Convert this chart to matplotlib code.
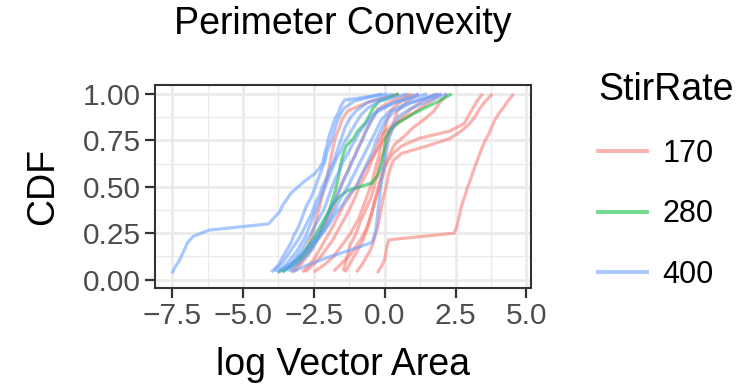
import numpy as np
import matplotlib
matplotlib.use("Agg")
import matplotlib.pyplot as plt
from matplotlib.lines import Line2D
from matplotlib.ticker import MultipleLocator

plt.rcParams['font.family'] = ['Liberation Sans', 'DejaVu Sans']

title = "Perimeter Convexity"
x_label = "log Vector Area"
y_label = "CDF"
legend_title = "StirRate"
stir_rates = ["170", "280", "400"]
colors = {"170": "#F8766D", "280": "#00BA38", "400": "#619CFF"}

x_ticks = [-7.5, -5.0, -2.5, 0.0, 2.5, 5.0]
x_tick_labels = ["\u22127.5", "\u22125.0", "\u22122.5", "0.0", "2.5", "5.0"]
y_ticks = [0.0, 0.25, 0.5, 0.75, 1.0]
y_tick_labels = ["0.00", "0.25", "0.50", "0.75", "1.00"]

# sorted sample values (log vector area) per sample; CDF = rank / n
r1 = [-0.26, -0.12, 0.0, 0.04, 0.08, 0.15, 2.45, 2.55, 2.6, 2.66, 2.7, 2.78, 2.86, 2.93,
      3.02, 3.1, 3.18, 3.27, 3.36, 3.45, 3.55, 3.68, 3.78, 3.88, 4.02, 4.2, 4.36, 4.55]
r2 = [-1.0, -0.8, -0.65, -0.5, -0.4, -0.33, -0.25, -0.2, -0.15, -0.1, -0.05, 0.02, 0.08,
      0.13, 0.2, 0.3, 0.6, 1.5, 2.3, 2.7, 3.0, 3.2, 3.35, 3.55, 3.8]
r3 = [-1.4, -1.25, -1.1, -0.95, -0.8, -0.7, -0.6, -0.52, -0.45, -0.38, -0.3, -0.22, -0.15,
      -0.07, 0.0, 0.12, 0.3, 0.6, 1.2, 2.3, 2.8, 2.95, 3.1, 3.25, 3.45]
r4 = [-2.9, -2.65, -2.45, -2.3, -2.15, -2.0, -1.85, -1.72, -1.58, -1.45, -1.28, -1.11,
      -0.95, -0.82, -0.68, -0.52, -0.35, -0.17, 0.0, 0.2, 0.4, 0.65, 0.95, 1.3, 1.8]
r5 = [-1.46, -1.38, -1.3, -1.23, -1.08, -0.95, -0.85, -0.7, -0.58, -0.45, -0.38, -0.3,
      -0.22, -0.16, -0.05, 0.06, 0.15, 0.25, 0.35, 0.45, 0.75, 1.2]
r6 = [-3.3, -3.0, -2.85, -2.7, -2.6, -2.5, -2.42, -2.35, -2.27, -2.2, -2.12, -2.05, -1.98,
      -1.92, -1.86, -1.8, -1.72, -1.6, -1.5, -1.3, -0.6, 0.5]
r7 = [-3.2, -2.95, -2.75, -2.55, -2.4, -2.25, -2.1, -1.95, -1.85, -1.75, -1.65, -1.55,
      -1.45, -1.3, -1.2, -1.05, -0.95, -0.8, -0.7, -0.55, -0.4, -0.25, 0.2, 0.9]
r8 = [-2.5, -2.1, -1.8, -1.6, -1.4, -1.2, -1.05, -0.9, -0.8, -0.7, -0.6, -0.5, -0.42,
      -0.35, -0.28, -0.2, -0.15, -0.1, -0.03, 0.05, 0.12, 0.25, 0.55, 1.0]
r9 = [-2.8, -2.5, -2.25, -2.05, -1.85, -1.7, -1.55, -1.4, -1.25, -1.12, -1.0, -0.9, -0.75,
      -0.6, -0.5, -0.38, -0.28, -0.2, -0.05, 0.3, 0.8, 1.2, 1.6, 2.0]
r10 = [-1.8, -1.5, -1.2, -1.0, -0.8, -0.65, -0.55, -0.45, -0.38, -0.3, -0.22, -0.15,
       -0.05, 0.05, 0.2, 0.35, 0.7, 1.0, 1.4, 1.75, 1.95, 2.2]

g1 = [-3.76, -3.2, -2.9, -2.65, -2.5, -2.32, -2.2, -2.08, -1.98, -1.9, -1.82, -1.74, -1.68,
      -1.62, -1.58, -1.52, -1.45, -1.36, -1.1, -0.95, -0.7, -0.55, -0.42, -0.2, 0.5]
g2 = [-3.6, -3.3, -3.0, -2.8, -2.6, -2.45, -2.3, -2.15, -2.0, -1.85, -1.65, -1.3, -0.45,
      -0.25, -0.15, -0.08, -0.03, 0.0, 0.04, 0.15, 0.45, 0.85, 1.35, 1.9, 2.36]

b1 = [-7.5, -7.4, -7.25, -7.15, -7.05, -6.95, -6.75, -6.2, -4.1, -3.9, -3.7, -3.6, -3.45,
      -3.3, -3.05, -2.8, -2.5, -2.3, -2.18, -2.13, -2.08, -2.02, -1.97, -1.9, -1.83,
      -1.75, -1.63, -1.55, -1.42, 0.1]
b2 = [-4.0, -3.75, -3.6, -3.45, -3.3, -3.2, -3.05, -2.95, -2.85, -2.75, -2.6, -2.5, -2.4,
      -2.3, -2.2, -2.1, -2.05, -1.95, -1.85, -1.78, -1.7, -1.6, -1.45, -1.1, -0.1]
b3 = [-3.9, -3.6, -3.4, -3.2, -3.0, -2.85, -2.7, -2.55, -2.45, -2.3, -2.2, -2.05, -1.95,
      -1.8, -1.7, -1.6, -1.5, -1.4, -1.25, -1.0, -0.6, 0.3]
b4 = [-3.8, -3.5, -3.3, -3.1, -2.95, -2.8, -2.7, -2.6, -2.5, -2.4, -2.3, -2.2, -2.1, -2.0,
      -1.9, -1.8, -1.7, -1.55, -1.45, -1.3, -1.15, -1.0, -0.85, -0.6, -0.2, 0.8]
b5 = [-3.6, -3.3, -3.1, -2.9, -2.75, -2.6, -2.45, -2.3, -2.15, -2.05, -1.95, -1.85, -1.75,
      -1.6, -1.5, -1.35, -1.2, -1.05, -0.9, -0.7, -0.5, -0.2, 0.4, 1.2]
b6 = [-3.5, -3.1, -2.8, -2.55, -2.35, -2.15, -2.0, -1.85, -1.7, -1.55, -1.4, -1.25, -1.1,
      -0.95, -0.8, -0.65, -0.5, -0.3, 0.3, 1.5]
b7 = [-3.4, -3.0, -2.7, -2.5, -2.3, -2.1, -1.95, -1.8, -1.65, -1.5, -1.3, -1.15, -1.0,
      -0.85, -0.7, -0.55, -0.4, -0.25, -0.1, 0.2, 0.9, 1.9]
b8 = [-3.3, -2.7, -2.0, -1.2, -0.45, -0.35, -0.3, -0.27, -0.24, -0.21, -0.18, -0.15,
      -0.12, -0.08, -0.04, 0.0, 0.05, 0.1, 0.15, 0.25, 0.35, 0.5, 0.9, 1.5, 2.2]
b9 = [-3.7, -3.2, -2.8, -2.5, -2.2, -1.95, -1.75, -1.5, -1.3, -1.0, -0.85, -0.7, -0.55,
      -0.4, -0.3, -0.15, 0.0, 0.3, 0.9, 2.0]

samples = {
    "170": [r1, r2, r3, r4, r5, r6, r7, r8, r9, r10],
    "280": [g1, g2],
    "400": [b1, b2, b3, b4, b5, b6, b7, b8, b9],
}

fig = plt.figure(figsize=(7.48, 3.89), dpi=100)
ax = fig.add_axes([155 / 748, 1 - 288 / 389, (530.7 - 155) / 748, (288 - 85) / 389])

all_x = np.concatenate([np.asarray(v) for k in samples for v in samples[k]])
xmin, xmax = all_x.min(), all_x.max()
pad = 0.05 * (xmax - xmin)
ax.set_xlim(xmin - pad, xmax + pad)
ax.set_ylim(-0.045, 1.048)

for rate in stir_rates:
    for s in samples[rate]:
        xs = np.sort(np.asarray(s, dtype=float))
        ys = np.arange(1, len(xs) + 1) / len(xs)
        ax.plot(xs, ys, color=colors[rate], alpha=0.55, lw=2.3, solid_capstyle="butt", zorder=3)

ax.set_xticks(x_ticks)
ax.set_xticklabels(x_tick_labels)
ax.set_yticks(y_ticks)
ax.set_yticklabels(y_tick_labels)
ax.xaxis.set_minor_locator(MultipleLocator(1.25))
ax.yaxis.set_minor_locator(MultipleLocator(0.125))

ax.grid(which="major", color="#EBEBEB", lw=2.0, zorder=0)
ax.grid(which="minor", color="#EBEBEB", lw=1.0, zorder=0)
ax.set_axisbelow(True)
for sp in ax.spines.values():
    sp.set_color("#333333")
    sp.set_linewidth(1.5)
ax.tick_params(which="major", length=7, width=1.6, color="#333333",
               labelsize=21.5, labelcolor="#4D4D4D", pad=3)
ax.tick_params(which="minor", length=0)

ax.set_xlabel(x_label, fontsize=27, color="black", labelpad=12)
ax.set_ylabel(y_label, fontsize=27, color="black", labelpad=16)
fig.suptitle(title, fontsize=27, x=(155 + 530.7) / 2 / 748, y=0.985, va="top")

handles = [Line2D([0], [0], color=colors[r], alpha=0.55, lw=2.8) for r in stir_rates]
leg = fig.legend(handles, stir_rates, title=legend_title, loc="upper left",
                 bbox_to_anchor=(586 / 748, 1 - 60 / 389), frameon=False,
                 fontsize=22, title_fontsize=27, handlelength=1.6, handletextpad=0.5,
                 labelspacing=1.0, borderaxespad=0)
leg._legend_box.align = "left"

fig.savefig("out.png", dpi=100)
